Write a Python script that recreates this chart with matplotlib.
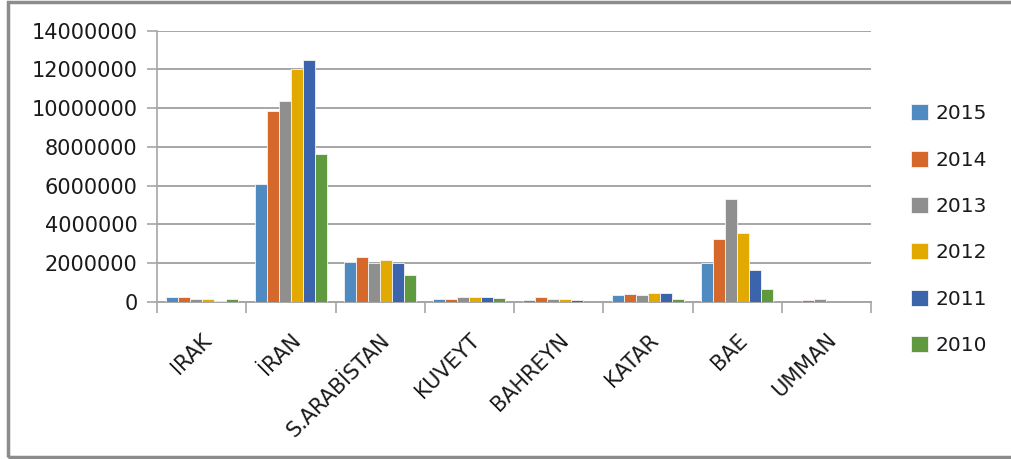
import numpy as np
import matplotlib
matplotlib.use('Agg')
import matplotlib.pyplot as plt
from matplotlib.patches import Rectangle

plt.rcParams['font.family'] = ['DejaVu Sans']

countries = ['IRAK', 'İRAN', 'S.ARABİSTAN', 'KUVEYT', 'BAHREYN', 'KATAR', 'BAE', 'UMMAN']
years = ['2015', '2014', '2013', '2012', '2011', '2010']

v2015 = [270000, 6100000, 2080000, 140000, 90000, 340000, 2000000, 10000]
v2014 = [280000, 9840000, 2340000, 140000, 270000, 410000, 3240000, 90000]
v2013 = [140000, 10360000, 2000000, 270000, 140000, 340000, 5330000, 140000]
v2012 = [140000, 12000000, 2150000, 270000, 140000, 480000, 3580000, 10000]
v2011 = [70000, 12470000, 2000000, 270000, 90000, 480000, 1630000, 5000]
v2010 = [140000, 7660000, 1370000, 200000, 10000, 140000, 650000, 5000]

colors = ['#4F8BC1', '#D5692B', '#8F8F8F', '#E2AA00', '#3B64AD', '#5F9A3F']

fig = plt.figure(figsize=(10.11, 4.59), dpi=100)
ax = fig.add_axes([157/1011, 1-302/459, (871-157)/1011, (302-30.7)/459])

series = [v2015, v2014, v2013, v2012, v2011, v2010]
x = np.arange(len(countries))
w = 0.134
for i, vals in enumerate(series):
    ax.bar(x + (i-2.5)*w, vals, w, color=colors[i], edgecolor='#f4f4f4',
           linewidth=0.6, label=years[i], zorder=3)

ax.set_xlim(-0.5, len(countries)-0.5)
ax.set_ylim(0, 14000000)
ax.set_yticks(np.arange(0, 14000001, 2000000))
ax.set_yticklabels([str(v) for v in range(0, 14000001, 2000000)])
ax.grid(axis='y', color='#a6a6a6', linewidth=1.4, zorder=0)

# ticks at category boundaries, labels at centres
ax.set_xticks(np.arange(len(countries)+1)-0.5)
ax.set_xticklabels([])
ax.set_xticks(x, minor=True)
ax.set_xticklabels(countries, minor=True, rotation=45, ha='right', va='top',
                   rotation_mode='anchor', fontsize=15, color='#1a1a1a')
ax.tick_params(axis='x', which='major', length=8, width=1.2, color='#a6a6a6')
ax.tick_params(axis='x', which='minor', length=0, pad=20)
ax.tick_params(axis='y', length=7, width=1.2, color='#a6a6a6', pad=7,
               labelsize=15, labelcolor='#1a1a1a')

for s in ['top', 'right']:
    ax.spines[s].set_visible(False)
ax.spines['left'].set_color('#a6a6a6')
ax.spines['left'].set_linewidth(1.2)
ax.spines['bottom'].set_color('#a6a6a6')
ax.spines['bottom'].set_linewidth(1.4)

leg = ax.legend(loc='upper left', bbox_to_anchor=(893/1011, 1-86/459),
                bbox_transform=fig.transFigure, frameon=False, fontsize=14.5,
                handlelength=0.85, handleheight=0.85, handletextpad=0.35,
                labelspacing=1.36)
for t in leg.get_texts():
    t.set_color('#1a1a1a')

fig.patches.append(Rectangle((8/1011, 2/459), 1.1, 1-3.5/459, transform=fig.transFigure,
                             fill=False, edgecolor='#8c8c8c', linewidth=2.5))

fig.savefig('out.png', dpi=100)
